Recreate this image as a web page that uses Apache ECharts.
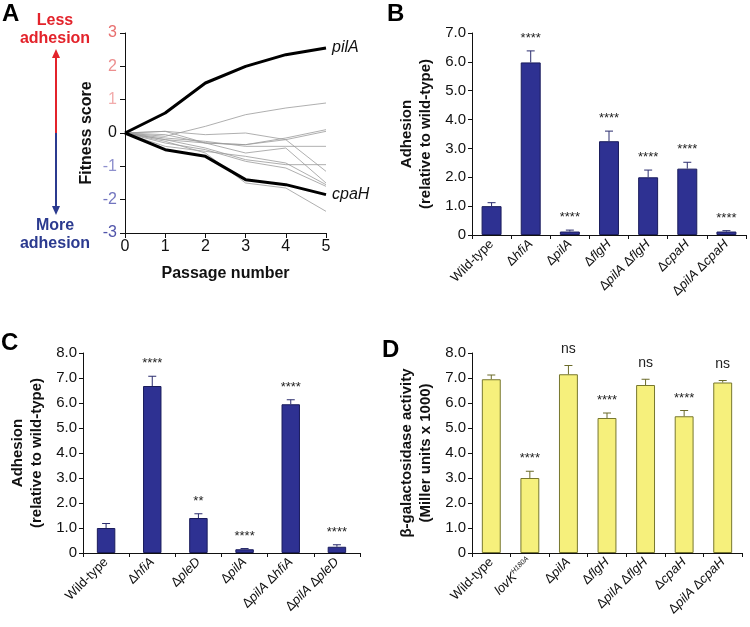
<!DOCTYPE html>
<html>
<head>
<meta charset="utf-8">
<script src="https://cdn.jsdelivr.net/npm/echarts@6/dist/echarts.min.js"></script>
<style>
  html, body { margin: 0; padding: 0; background: #fff; }
  #chart { width: 750px; height: 627px; }
</style>
</head>
<body>
<div id="chart"></div>
<script>
// Panel A: fitness over passages
const passages = [0, 1, 2, 3, 4, 5];
const pilA = [0, 0.6, 1.5, 2.0, 2.35, 2.55];
const cpaH = [0, -0.5, -0.7, -1.4, -1.55, -1.85];
const otherMutants = [
  [0, -0.1, 0.2, 0.55, 0.75, 0.9],
  [0, 0.05, -0.3, -0.35, -0.15, 0.1],
  [0, -0.2, -0.3, -0.35, -0.2, 0.05],
  [0, -0.15, -0.25, -0.4, -0.4, -0.4],
  [0, 0.05, -0.05, 0.0, -0.2, -1.15],
  [0, -0.05, -0.3, -0.6, -0.45, -1.5],
  [0, -0.2, -0.45, -0.8, -0.95, -0.95],
  [0, -0.3, -0.5, -0.85, -1.05, -1.6],
  [0, -0.25, -0.6, -1.5, -1.65, -2.35],
  [0, -0.4, -0.55, -0.7, -0.9, -1.55]
];

// Panel B
const strainsB = ['Wild-type', 'ΔhfiA', 'ΔpilA', 'ΔflgH', 'ΔpilA ΔflgH', 'ΔcpaH', 'ΔpilA ΔcpaH'];
const adhesionB = [1.0, 5.98, 0.12, 3.25, 2.0, 2.3, 0.12];
const errorB = [0.12, 0.4, 0.05, 0.35, 0.25, 0.22, 0.03];
const sigB = ['', '****', '****', '****', '****', '****', '****'];

// Panel C
const strainsC = ['Wild-type', 'ΔhfiA', 'ΔpleD', 'ΔpilA', 'ΔpilA ΔhfiA', 'ΔpilA ΔpleD'];
const adhesionC = [1.0, 6.68, 1.4, 0.15, 5.95, 0.25];
const errorC = [0.18, 0.39, 0.17, 0.03, 0.18, 0.08];
const sigC = ['', '****', '**', '****', '****', '****'];

// Panel D
const strainsD = ['Wild-type', 'lovK^H180A', 'ΔpilA', 'ΔflgH', 'ΔpilA ΔflgH', 'ΔcpaH', 'ΔpilA ΔcpaH'];
const galD = [6.95, 3.0, 7.15, 5.4, 6.72, 5.47, 6.82];
const errorD = [0.17, 0.27, 0.35, 0.2, 0.23, 0.23, 0.08];
const sigD = ['', '****', 'ns', '****', 'ns', '****', 'ns'];

const FONT = '"Liberation Sans", Arial, Helvetica, sans-serif';
const BLUE = '#2e3192';
const YELLOW = '#f6f07c';

const chart = echarts.init(document.getElementById('chart'));

// A tick colours: pink above zero, blue below
function fitnessTickColor(v) {
  const n = Number(v);
  const map = { '3': '#e86f6f', '2': '#ec8e8e', '1': '#f2acac', '0': '#111',
    '-1': '#8e90cd', '-2': '#7275bf', '-3': '#5054aa' };
  return map[String(n)] || '#111';
}

function strainLabel(s) {
  if (s.indexOf('^') >= 0) {
    const p = s.split('^');
    return '{i|' + p[0] + '}{s|' + p[1] + '}';
  }
  return s.replace(/Δ([A-Za-z]+)/g, '{n|Δ}{i|$1}');
}

const richLabel = {
  n: { fontFamily: FONT, fontSize: 13, color: '#111' },
  i: { fontFamily: FONT, fontSize: 13, fontStyle: 'italic', color: '#111' },
  s: { fontFamily: FONT, fontSize: 7, fontStyle: 'italic', color: '#111', verticalAlign: 'top', padding: [0, 0, 7, 0] }
};

function catAxis(idx, data) {
  return {
    type: 'category', gridIndex: idx, data: data,
    axisLine: { lineStyle: { color: '#111', width: 1 } },
    axisTick: { show: true, length: 4, lineStyle: { color: '#111' } },
    axisLabel: {
      rotate: 45, margin: 7, fontFamily: FONT, fontSize: 13, color: '#111',
      interval: 0, formatter: strainLabel, rich: richLabel
    }
  };
}

function valAxis(idx, max, name, gap) {
  return {
    type: 'value', gridIndex: idx, min: 0, max: max, interval: 1,
    name: name, nameLocation: 'middle', nameGap: gap, nameRotate: 90,
    nameTextStyle: { fontFamily: FONT, fontSize: 15, fontWeight: 'bold', color: '#111', lineHeight: 19 },
    axisLine: { show: true, lineStyle: { color: '#111', width: 1 } },
    axisTick: { show: true, length: 4, lineStyle: { color: '#111' } },
    splitLine: { show: false },
    axisLabel: {
      fontFamily: FONT, fontSize: 15, color: '#111', margin: 6,
      formatter: v => (v === 0 ? '0' : v.toFixed(1))
    }
  };
}

function barSeries(idx, values, color, border, width) {
  return {
    type: 'bar', xAxisIndex: idx, yAxisIndex: idx, data: values,
    barWidth: width, itemStyle: { color: color, borderColor: border, borderWidth: 1 },
    silent: true
  };
}

// error bar going up from bar top, with significance marks above
function errorSeries(idx, values, errs, sig, color) {
  return {
    type: 'custom', xAxisIndex: idx, yAxisIndex: idx,
    data: values.map((v, i) => [i, v, v + errs[i]]),
    renderItem: function (params, api) {
      const i = api.value(0);
      const base = api.coord([i, api.value(1)]);
      const top = api.coord([i, api.value(2)]);
      const children = [
        { type: 'line', shape: { x1: base[0], y1: base[1], x2: top[0], y2: top[1] },
          style: { stroke: color, lineWidth: 1 } },
        { type: 'line', shape: { x1: top[0] - 4, y1: top[1], x2: top[0] + 4, y2: top[1] },
          style: { stroke: color, lineWidth: 1 } }
      ];
      if (sig[i]) {
        const isNs = sig[i] === 'ns';
        children.push({
          type: 'text',
          style: {
            text: sig[i], x: top[0], y: top[1] - (isNs ? 9 : 6),
            align: 'center', verticalAlign: 'bottom',
            fontFamily: FONT, fontSize: isNs ? 14 : 13, fill: '#222'
          }
        });
      }
      return { type: 'group', children: children };
    },
    z: 5, silent: true
  };
}

const lineSeries = otherMutants.map(d => ({
  type: 'line', xAxisIndex: 0, yAxisIndex: 0,
  data: passages.map((p, i) => [p, d[i]]),
  symbol: 'none', lineStyle: { color: '#9a9a9a', width: 0.8 }, silent: true
}));
lineSeries.push({
  type: 'line', xAxisIndex: 0, yAxisIndex: 0,
  data: passages.map((p, i) => [p, pilA[i]]),
  symbol: 'none', lineStyle: { color: '#000', width: 3 }, z: 4,
  endLabel: { show: true, formatter: 'pilA', fontFamily: FONT, fontSize: 16, fontStyle: 'italic', color: '#111', distance: 6 }
});
lineSeries.push({
  type: 'line', xAxisIndex: 0, yAxisIndex: 0,
  data: passages.map((p, i) => [p, cpaH[i]]),
  symbol: 'none', lineStyle: { color: '#000', width: 3 }, z: 4,
  endLabel: { show: true, formatter: 'cpaH', fontFamily: FONT, fontSize: 16, fontStyle: 'italic', color: '#111', distance: 6 }
});

function panelLetter(txt, x, y) {
  return { type: 'text', left: x, top: y,
    style: { text: txt, fontFamily: FONT, fontSize: 24, fontWeight: 'bold', fill: '#000' } };
}

const option = {
  animation: false,
  backgroundColor: '#fff',
  grid: [
    { left: 125, top: 33, width: 201, height: 200, outerBoundsMode: 'none' },
    { left: 472, top: 33, width: 274, height: 202, outerBoundsMode: 'none' },
    { left: 83, top: 353, width: 277, height: 200, outerBoundsMode: 'none' },
    { left: 472, top: 353, width: 270, height: 200, outerBoundsMode: 'none' }
  ],
  xAxis: [
    {
      type: 'value', gridIndex: 0, min: 0, max: 5, interval: 1,
      name: 'Passage number', nameLocation: 'middle', nameGap: 33,
      nameTextStyle: { fontFamily: FONT, fontSize: 16, fontWeight: 'bold', color: '#111' },
      axisLine: { onZero: false, lineStyle: { color: '#111' } },
      axisTick: { show: true, length: 5, lineStyle: { color: '#111' } },
      splitLine: { show: false },
      axisLabel: { fontFamily: FONT, fontSize: 16, color: '#111', margin: 6 }
    },
    catAxis(1, strainsB),
    catAxis(2, strainsC),
    catAxis(3, strainsD)
  ],
  yAxis: [
    {
      type: 'value', gridIndex: 0, min: -3, max: 3, interval: 1,
      name: 'Fitness score', nameLocation: 'middle', nameGap: 30, nameRotate: 90,
      nameTextStyle: { fontFamily: FONT, fontSize: 16, fontWeight: 'bold', color: '#111' },
      axisLine: { show: true, onZero: false, lineStyle: { color: '#111' } },
      axisTick: { show: true, length: 5, lineStyle: { color: '#111' } },
      splitLine: { show: false },
      axisLabel: { fontFamily: FONT, fontSize: 16, margin: 8, color: fitnessTickColor }
    },
    valAxis(1, 7, 'Adhesion\n(relative to wild-type)', 37),
    valAxis(2, 8, 'Adhesion\n(relative to wild-type)', 37),
    valAxis(3, 8, 'β-galactosidase activity\n(Miller units x 1000)', 37)
  ],
  series: lineSeries.concat([
    barSeries(1, adhesionB, BLUE, '#1a1c5c', '51%'),
    errorSeries(1, adhesionB, errorB, sigB, '#2b2d6e'),
    barSeries(2, adhesionC, BLUE, '#1a1c5c', '40%'),
    errorSeries(2, adhesionC, errorC, sigC, '#2b2d6e'),
    barSeries(3, galD, YELLOW, '#77772e', '49%'),
    errorSeries(3, galD, errorD, sigD, '#6b6b2a')
  ]),
  graphic: [
    panelLetter('A', 2, 2),
    panelLetter('B', 387, 2),
    panelLetter('C', 1, 331),
    panelLetter('D', 382, 338),
    // fitness direction annotation
    { type: 'text', x: 55, y: 21, style: { text: 'Less', align: 'center', verticalAlign: 'middle',
      fontFamily: FONT, fontSize: 16, fontWeight: 'bold', fill: '#e3232b' } },
    { type: 'text', x: 55, y: 39, style: { text: 'adhesion', align: 'center', verticalAlign: 'middle',
      fontFamily: FONT, fontSize: 16, fontWeight: 'bold', fill: '#e3232b' } },
    { type: 'text', x: 55, y: 226, style: { text: 'More', align: 'center', verticalAlign: 'middle',
      fontFamily: FONT, fontSize: 16, fontWeight: 'bold', fill: '#2b3a8f' } },
    { type: 'text', x: 55, y: 244, style: { text: 'adhesion', align: 'center', verticalAlign: 'middle',
      fontFamily: FONT, fontSize: 16, fontWeight: 'bold', fill: '#2b3a8f' } },
    { type: 'line', shape: { x1: 56, y1: 133, x2: 56, y2: 56 }, style: { stroke: '#e3232b', lineWidth: 2 } },
    { type: 'polygon', shape: { points: [[56, 49], [52, 58], [60, 58]] }, style: { fill: '#e3232b' } },
    { type: 'line', shape: { x1: 56, y1: 133, x2: 56, y2: 208 }, style: { stroke: '#2b3a8f', lineWidth: 2 } },
    { type: 'polygon', shape: { points: [[56, 215], [52, 206], [60, 206]] }, style: { fill: '#2b3a8f' } }
  ]
};

chart.setOption(option);
</script>
</body>
</html>
